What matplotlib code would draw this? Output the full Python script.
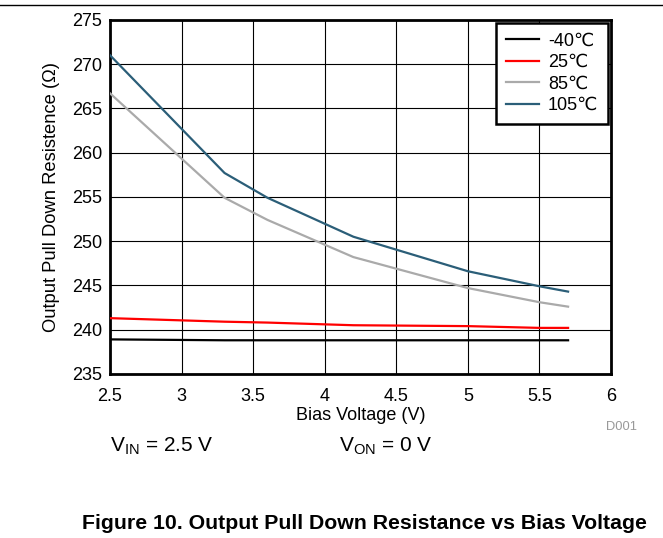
import matplotlib
matplotlib.use("Agg")
import matplotlib.pyplot as plt
from matplotlib.lines import Line2D

plt.rcParams['font.family'] = ['Liberation Sans', 'DejaVu Sans']

# -----------------------------
# DATA
# -----------------------------
bias_v = [2.5, 3.3, 3.6, 4.2, 5.0, 5.5, 5.7]
r_m40 = [238.9, 238.8, 238.8, 238.8, 238.8, 238.8, 238.8]
r_25 = [241.3, 240.9, 240.8, 240.5, 240.4, 240.2, 240.2]
r_85 = [266.7, 254.9, 252.4, 248.2, 244.7, 243.1, 242.6]
r_105 = [271.0, 257.7, 254.9, 250.5, 246.6, 244.9, 244.3]

labels = ["-40\u2103", "25\u2103", "85\u2103", "105\u2103"]
colors = ["#000000", "#FF0000", "#AAAAAA", "#2B5E78"]

x_ticks = [2.5, 3, 3.5, 4, 4.5, 5, 5.5, 6]
x_tick_labels = ["2.5", "3", "3.5", "4", "4.5", "5", "5.5", "6"]
y_ticks = [235, 240, 245, 250, 255, 260, 265, 270, 275]

fig = plt.figure(figsize=(6.63, 5.38), dpi=100)
ax = fig.add_axes([0.166, 0.305, 0.7556, 0.658])

for ys, c, lab in zip([r_m40, r_25, r_85, r_105], colors, labels):
    ax.plot(bias_v, ys, color=c, linewidth=1.6, label=lab, zorder=3)

ax.set_xlim(2.5, 6)
ax.set_ylim(235, 275)
ax.set_xticks(x_ticks)
ax.set_xticklabels(x_tick_labels)
ax.set_yticks(y_ticks)
ax.tick_params(length=0, labelsize=13)
ax.tick_params(axis="x", pad=10.5)
ax.tick_params(axis="y", pad=5.5)
ax.grid(True, color="#000000", linewidth=0.8, zorder=1)
for s in ax.spines.values():
    s.set_linewidth(2.0)

ax.set_xlabel("Bias Voltage (V)", fontsize=13, labelpad=1)
ax.set_ylabel("Output Pull Down Resistence (\u03a9)", fontsize=13.2, labelpad=9)

leg = ax.legend(loc="upper right", fontsize=13, frameon=True, fancybox=False,
                handlelength=1.85, handletextpad=0.5, borderpad=0.55,
                labelspacing=0.25, borderaxespad=0.15)
leg.get_frame().set_edgecolor("#000000")
leg.get_frame().set_linewidth(1.8)
leg.get_frame().set_alpha(1.0)

fig.text(0.938, 0.206, "D001", color="#999999", fontsize=9.3, ha="center", va="center")
fig.text(0.166, 0.170, r"V$_{\mathregular{IN}}$ = 2.5 V", fontsize=15, va="center")
fig.text(0.512, 0.170, r"V$_{\mathregular{ON}}$ = 0 V", fontsize=15, va="center")
fig.text(0.55, 0.027, "Figure 10. Output Pull Down Resistance vs Bias Voltage",
         fontsize=15.3, fontweight="bold", ha="center", va="center")

fig.add_artist(Line2D([0, 1], [0.991, 0.991], color="#000000", linewidth=1.0,
                      transform=fig.transFigure))

fig.savefig("out.png", dpi=100)
